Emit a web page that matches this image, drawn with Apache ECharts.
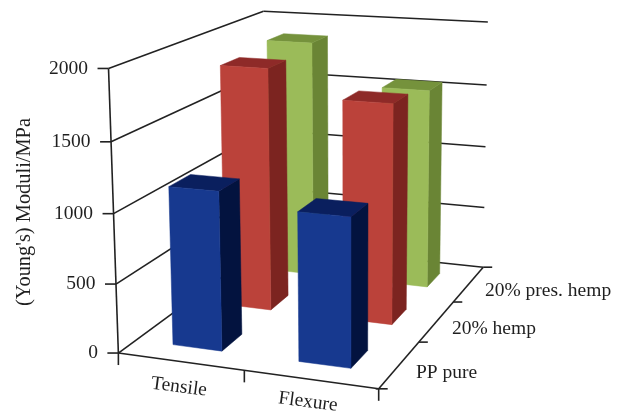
<!DOCTYPE html>
<html><head><meta charset="utf-8">
<style>html,body{margin:0;padding:0;background:#fff}#c{width:624px;height:414px;filter:blur(0.45px)}</style>
<script src="https://cdn.jsdelivr.net/npm/echarts@6/dist/echarts.min.js"></script>
</head><body><div id="c"></div>
<script>
const categories = ['Tensile', 'Flexure'];
const depths = ['PP pure', '20% hemp', '20% pres. hemp'];
const ppPure = [1145, 1055];
const hemp20 = [1830, 1635];
const presHemp20 = [1870, 1555];
const valueTicks = [0, 500, 1000, 1500, 2000];
const yTitle = "(Young's) Moduli/MPa";

const seriesValues = [ppPure, hemp20, presHemp20];
const faceColors = [
  {front:'#17398f', side:'#03133f', top:'#0a1f5e'},
  {front:'#bb423a', side:'#7c2420', top:'#8e2a28'},
  {front:'#9bbb59', side:'#6a8535', top:'#75923c'}
];
const barU = 0.198, barV = 0.13, uShift = 0, maxV = 2000;
const FONT = '19.5px "Liberation Serif"';
const TITLE_FONT = '20.4px "Liberation Serif"';
const INK = '#222';

// Camera fitted to the box of the plot: [u,v,w] -> screen
const anchors = [
 [0,0,0,118,353],[1,0,0,378,388],[1,1,0,482,267],[0,1,0,267,244],
 [0,0,1,109,68],[0,1,1,263,11],[1,1,1,488,22],
 [.5,0,0,243,370],[1,1/3,0,420,342],[1,2/3,0,455,303],[0,0,.5,114,215],[1,1,.5,485,147]
];
function fitCamera(pts){
  const A=[],b=[];
  pts.forEach(([u,v,w,x,y])=>{
    A.push([u,v,w,1,0,0,0,0,-x*u,-x*v,-x*w]);b.push(x);
    A.push([0,0,0,0,u,v,w,1,-y*u,-y*v,-y*w]);b.push(y);
  });
  const n=11,M=[];
  for(let i=0;i<n;i++){M.push([]);for(let j=0;j<n;j++){let s=0;A.forEach(r=>s+=r[i]*r[j]);M[i].push(s);}
    let s=0;A.forEach((r,k)=>s+=r[i]*b[k]);M[i].push(s);}
  for(let i=0;i<n;i++){let p=i;for(let k=i+1;k<n;k++)if(Math.abs(M[k][i])>Math.abs(M[p][i]))p=k;
    [M[i],M[p]]=[M[p],M[i]];
    for(let k=0;k<n;k++){if(k===i)continue;const f=M[k][i]/M[i][i];for(let j=i;j<=n;j++)M[k][j]-=f*M[i][j];}}
  return M.map((r,i)=>r[n]/r[i]);
}
const C = fitCamera(anchors);
function P(u,v,w){
  const d=C[8]*u+C[9]*v+C[10]*w+1;
  return [(C[0]*u+C[1]*v+C[2]*w+C[3])/d,(C[4]*u+C[5]*v+C[6]*w+C[7])/d];
}
function line(a,b,lw){return {type:'line',shape:{x1:a[0],y1:a[1],x2:b[0],y2:b[1]},style:{stroke:INK,lineWidth:lw||1.6},silent:true};}
function txt(t,x,y,align,rot,font){return {type:'text',x:x,y:y,rotation:rot||0,style:{text:t,fill:'#1f1f1f',font:font||FONT,align:align||'center',verticalAlign:'middle'},silent:true};}
function add(p,dx,dy){return [p[0]+dx,p[1]+dy];}

function renderFrame(){
  const kids=[];
  valueTicks.forEach(t=>{
    const w=t/maxV,a=P(0,0,w),b=P(0,1,w),c=P(1,1,w);
    kids.push(line(a,b),line(b,c));
    kids.push(line(a,add(a,-11,0)));
    kids.push(txt(String(t),a[0]-20.5,a[1],'right'));
  });
  const o=P(0,0,0),r=P(1,0,0),br=P(1,1,0);
  kids.push(line(o,P(0,0,1)),line(o,r),line(r,br));
  // category ticks
  [0,.5,1].forEach(u=>{const p=P(u,0,0);kids.push(line(p,add(p,0,12)));});
  // depth ticks
  [0,1/3,2/3,1].forEach(v=>{const p=P(1,v,0);kids.push(line(add(p,v===0?-3:0,0),add(p,9,0)));});
  // labels
  const catPos=[[179,387],[308,402]];
  categories.forEach((c,i)=>kids.push(txt(c,catPos[i][0],catPos[i][1],'center',-0.13)));
  const depPos=[[416,373],[452,329],[485,291]];
  depths.forEach((d,i)=>kids.push(txt(d,depPos[i][0],depPos[i][1],'left')));
  kids.push(txt(yTitle,25,212,'center',Math.PI/2,TITLE_FONT));
  return {type:'group',children:kids};
}

const GW=200,GH=200;
function makeBars(si){
  return function(params,api){
    const pt=api.coord([api.value(0),api.value(1)]);
    const u=pt[0]/GW+uShift,w=(GH-pt[1])/GH,v=(si+.5)/depths.length;
    const u0=u-barU/2,u1=u+barU/2,v0=v-barV/2,v1=v+barV/2,c=faceColors[si];
    const poly=(pts,fill)=>({type:'polygon',shape:{points:pts},style:{fill:fill,stroke:fill,lineWidth:.5}});
    return {type:'group',children:[
      poly([P(u1,v0,0),P(u1,v1,0),P(u1,v1,w),P(u1,v0,w)],c.side),
      poly([P(u0,v0,w),P(u1,v0,w),P(u1,v1,w),P(u0,v1,w)],c.top),
      poly([P(u0,v0,0),P(u1,v0,0),P(u1,v0,w),P(u0,v0,w)],c.front)
    ]};
  };
}
const barSeries=[2,1,0].map(si=>({
  type:'custom',name:depths[si],coordinateSystem:'cartesian2d',clip:false,z:3,
  renderItem:makeBars(si),encode:{x:0,y:1},
  data:seriesValues[si].map((val,i)=>[i,val])
}));
const chart=echarts.init(document.getElementById('c'),null,{renderer:'canvas'});
chart.setOption({
  animation:false,backgroundColor:'#fff',
  grid:{left:0,top:0,width:GW,height:GH,containLabel:false},
  xAxis:{type:'category',data:categories,show:false},
  yAxis:{type:'value',min:0,max:maxV,interval:500,show:false},
  tooltip:{show:false},legend:{show:false},
  series:[{type:'custom',name:'frame',coordinateSystem:'none',z:1,renderItem:renderFrame,data:[0],silent:true}].concat(barSeries)
});
</script></body></html>
